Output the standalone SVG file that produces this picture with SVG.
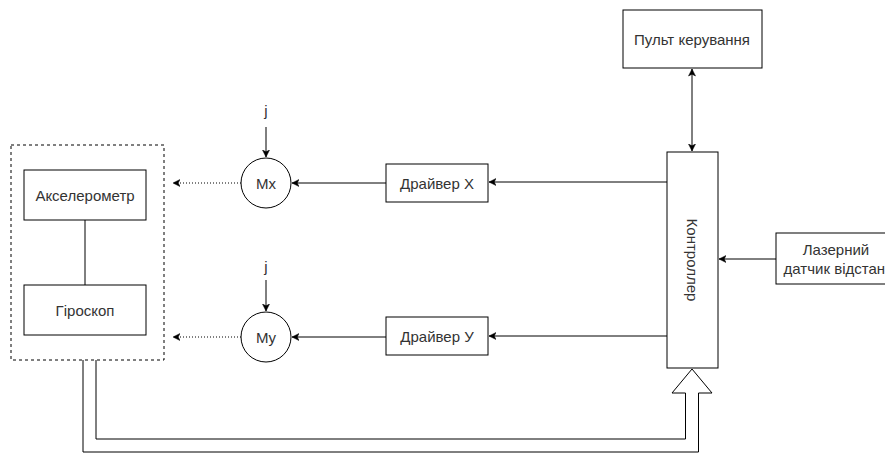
<svg xmlns="http://www.w3.org/2000/svg" width="885" height="454" viewBox="0 0 885 454">
<style>
.box{fill:#fff;stroke:#000;stroke-width:1}
.t{font-family:"Liberation Sans",Arial,sans-serif;font-size:15px;fill:#333;text-anchor:middle;dominant-baseline:central}
.ln{fill:none;stroke:#000;stroke-width:1}
.dot{fill:none;stroke:#000;stroke-width:1;stroke-dasharray:1 2}
</style>
<defs>
<marker id="ah" markerWidth="10" markerHeight="10" refX="7" refY="3.5" orient="auto" markerUnits="userSpaceOnUse">
<path d="M0,0 L7,3.5 L0,7 L1.8,3.5 Z" fill="#000" stroke="#000" stroke-width="0.5"/>
</marker>
<marker id="ahs" markerWidth="10" markerHeight="10" refX="0" refY="3.5" orient="auto" markerUnits="userSpaceOnUse">
<path d="M7,0 L0,3.5 L7,7 L5.2,3.5 Z" fill="#000" stroke="#000" stroke-width="0.5"/>
</marker>
</defs>
<g id="connectors">
<line class="ln" x1="85" y1="220" x2="85" y2="285"/>
<line class="dot" x1="241" y1="183" x2="173" y2="183" marker-end="url(#ah)"/>
<line class="dot" x1="241" y1="337" x2="173" y2="337" marker-end="url(#ah)"/>
<line class="ln" x1="266" y1="127" x2="266" y2="157" marker-end="url(#ah)"/>
<line class="ln" x1="266" y1="280" x2="266" y2="311" marker-end="url(#ah)"/>
<line class="ln" x1="386" y1="183" x2="292" y2="183" marker-end="url(#ah)"/>
<line class="ln" x1="386" y1="337" x2="292" y2="337" marker-end="url(#ah)"/>
<line class="ln" x1="667" y1="182" x2="489" y2="182" marker-end="url(#ah)"/>
<line class="ln" x1="667" y1="336" x2="489" y2="336" marker-end="url(#ah)"/>
<line class="ln" x1="692" y1="69" x2="692" y2="151" marker-start="url(#ahs)" marker-end="url(#ah)"/>
<line class="ln" x1="776" y1="259" x2="719" y2="259" marker-end="url(#ah)"/>
<polyline class="ln" points="83,360 83,452 698.5,452 698.5,393 712,393 692,369 672,393 685.5,393 685.5,439 96,439 96,360" fill="#fff" stroke-linejoin="miter"/>
</g>
<g id="sensor-group">
<rect x="11" y="145" width="153" height="215" fill="none" stroke="#000" stroke-width="1" stroke-dasharray="3 3"/>
</g>
<g id="accel">
<rect class="box" x="24" y="170" width="122" height="50"/>
<text class="t" x="85" y="195">Акселерометр</text>
</g>
<g id="gyro">
<rect class="box" x="24" y="285" width="122" height="50"/>
<text class="t" x="85" y="310">Гіроскоп</text>
</g>
<g id="mx">
<circle class="box" cx="266" cy="183" r="25"/>
<text class="t" x="266" y="183">Mx</text>
</g>
<g id="my">
<circle class="box" cx="266" cy="337" r="25"/>
<text class="t" x="266" y="337">My</text>
</g>
<g id="jx"><text class="t" x="266" y="110">j</text></g>
<g id="jy"><text class="t" x="266" y="266">j</text></g>
<g id="driver-x">
<rect class="box" x="386" y="164" width="102" height="38"/>
<text class="t" x="437" y="183">Драйвер X</text>
</g>
<g id="driver-y">
<rect class="box" x="386" y="317" width="102" height="38"/>
<text class="t" x="437" y="336">Драйвер У</text>
</g>
<g id="controller">
<rect class="box" x="667" y="152" width="51" height="216"/>
<text class="t" transform="translate(692,260) rotate(90)" x="0" y="0">Контроллер</text>
</g>
<g id="remote">
<rect class="box" x="623" y="10" width="139" height="58"/>
<text class="t" x="692" y="39">Пульт керування</text>
</g>
<g id="laser">
<rect class="box" x="776" y="233" width="120" height="51"/>
<text class="t" x="836" y="249">Лазерний</text>
<text class="t" x="836" y="268">датчик відстані</text>
</g>
</svg>
